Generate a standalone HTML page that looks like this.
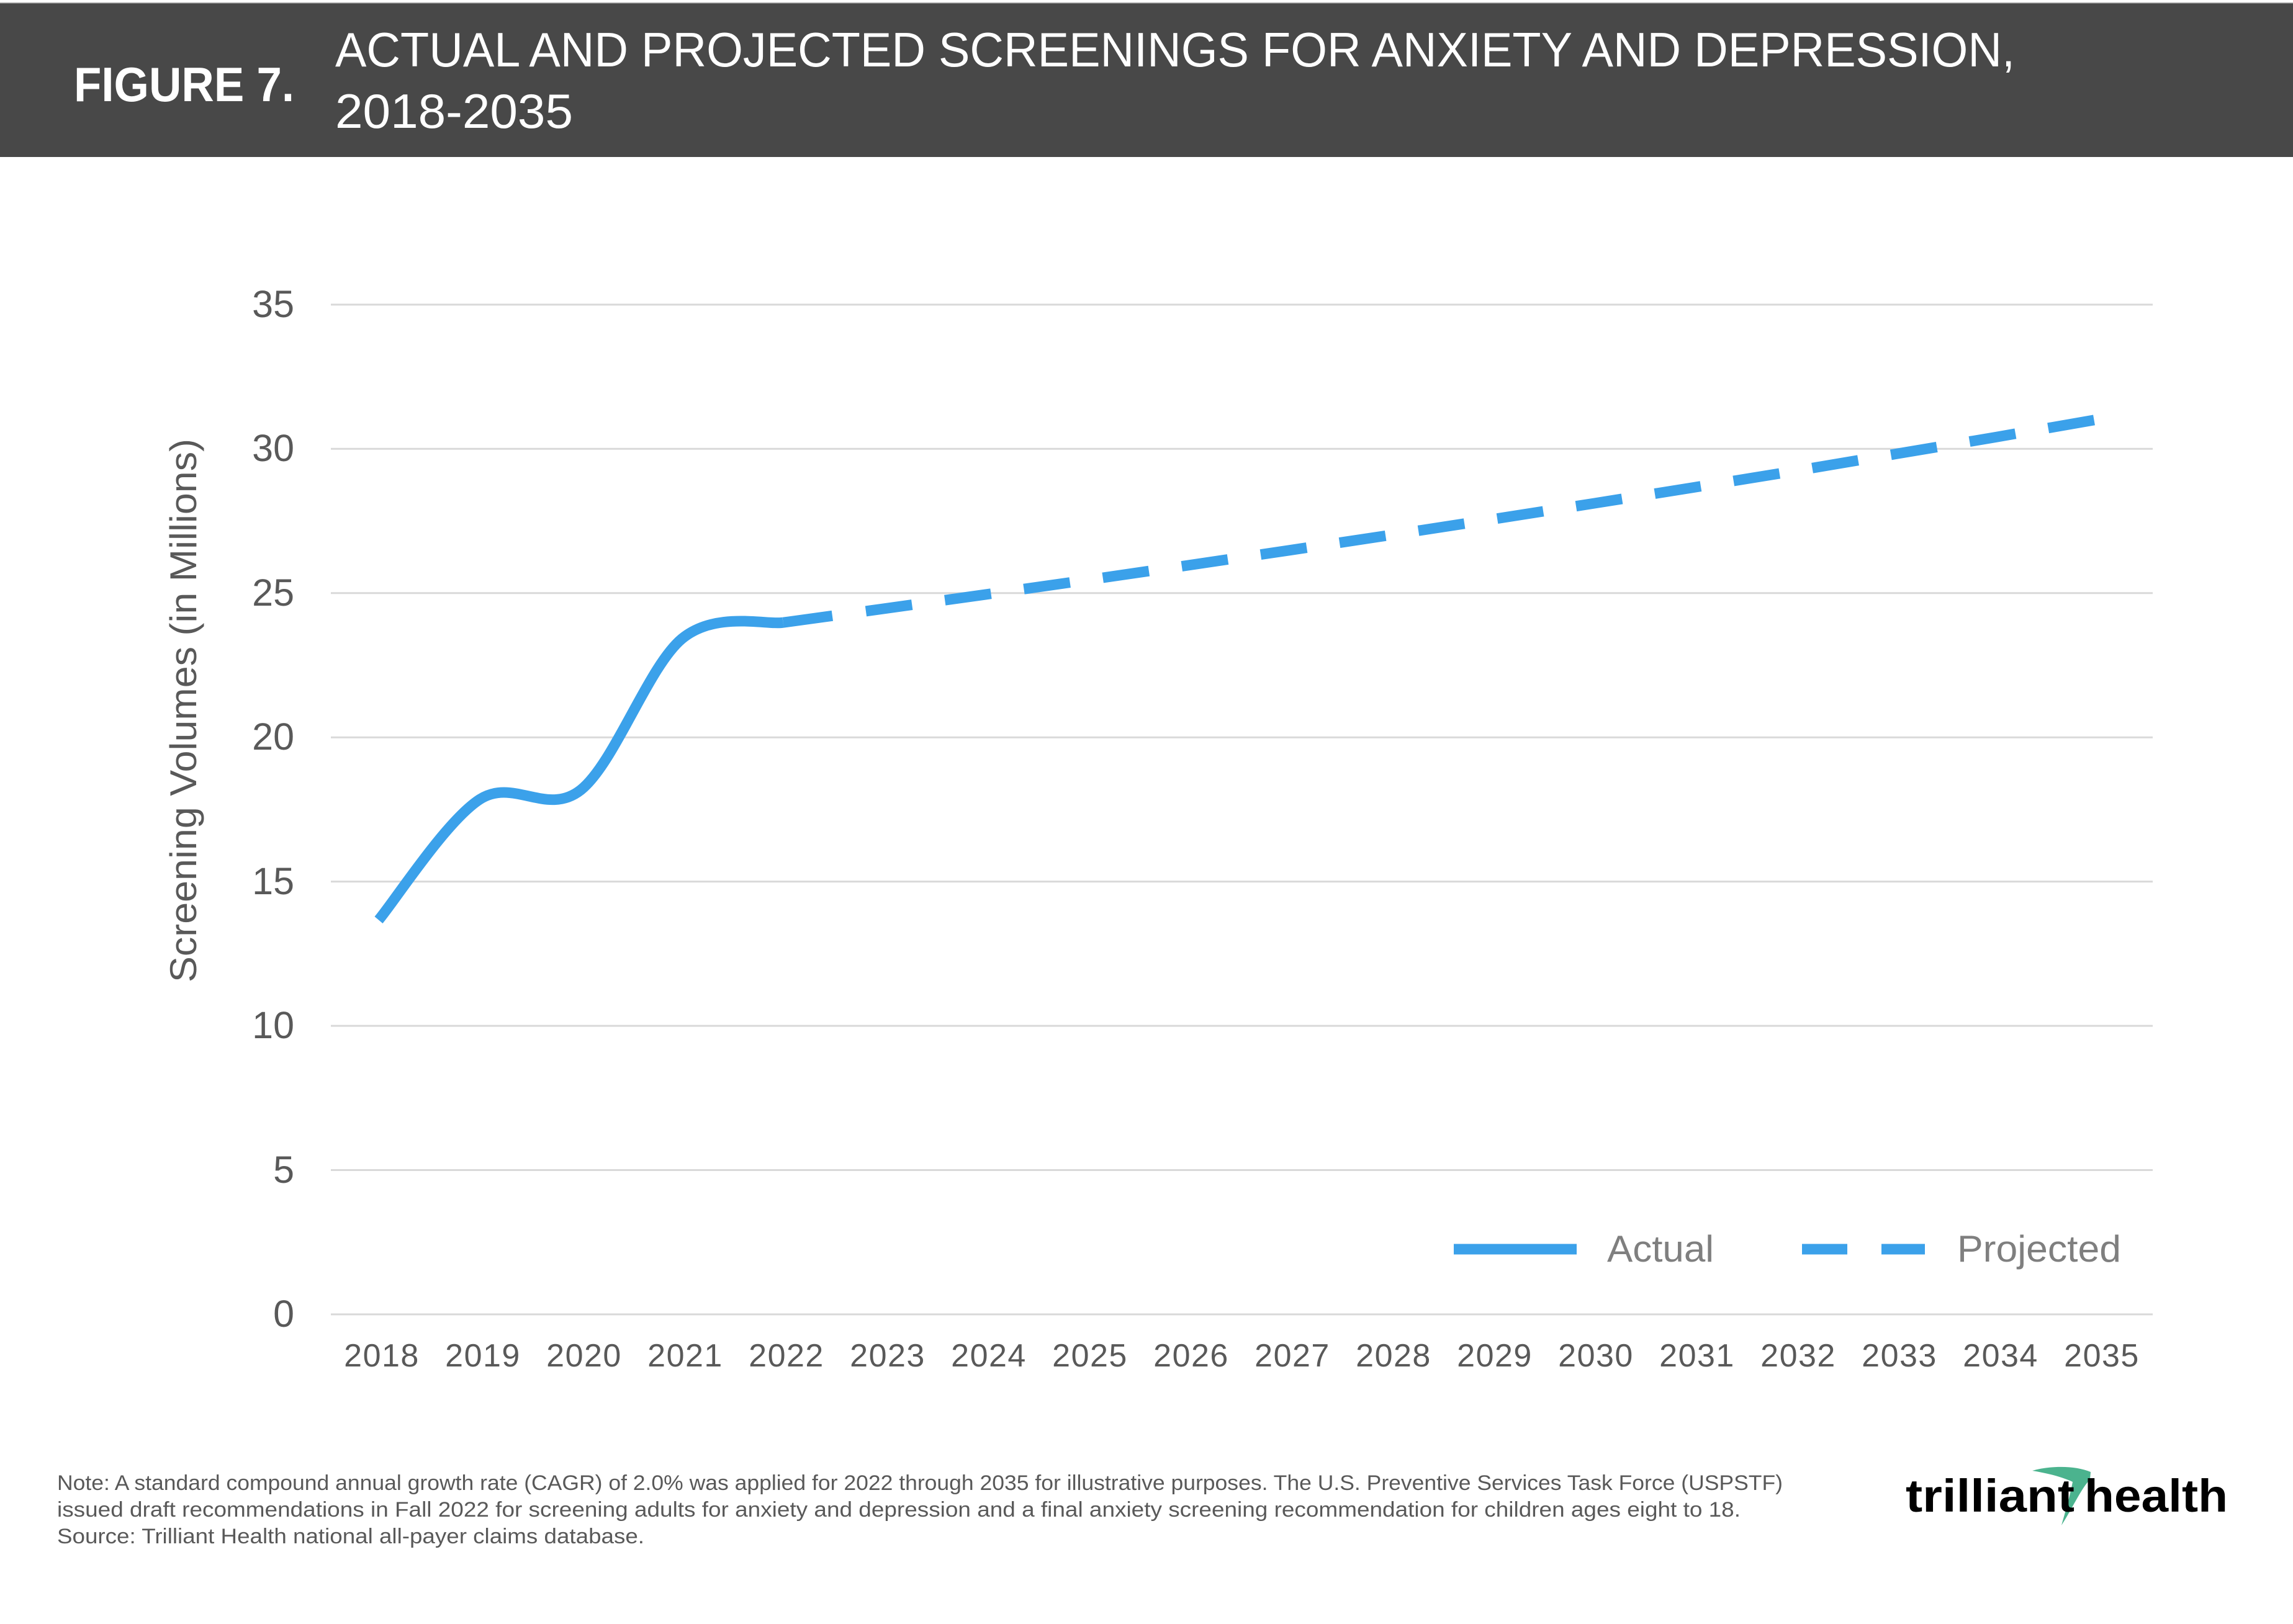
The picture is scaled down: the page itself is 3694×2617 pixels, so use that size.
<!DOCTYPE html>
<html>
<head>
<meta charset="utf-8">
<style>
  html, body { margin:0; padding:0; background:#ffffff; }
  body { width:3694px; height:2617px; overflow:hidden; }
  svg { display:block; }
  text { font-family: "Liberation Sans", Arial, sans-serif; }
</style>
</head>
<body>
<svg width="3694" height="2617" viewBox="0 0 3694 2617" xmlns="http://www.w3.org/2000/svg">
  <rect x="0" y="0" width="3694" height="2617" fill="#ffffff"/>

  <!-- Header band -->
  <rect x="0" y="5" width="3694" height="248" fill="#484848"/>
  <line x1="0" y1="5" x2="3694" y2="5" stroke="#8a8a8a" stroke-width="1.5"/>
  <text x="119" y="163" font-size="78" font-weight="bold" fill="#ffffff" textLength="355" lengthAdjust="spacingAndGlyphs">FIGURE 7.</text>
  <text x="540" y="107" font-size="78" fill="#ffffff" textLength="2706" lengthAdjust="spacingAndGlyphs">ACTUAL AND PROJECTED SCREENINGS FOR ANXIETY AND DEPRESSION,</text>
  <text x="540" y="206" font-size="78" fill="#ffffff" textLength="383" lengthAdjust="spacingAndGlyphs">2018-2035</text>

  <!-- Gridlines -->
  <g stroke="#d9d9d9" stroke-width="3">
    <line x1="533" y1="2118" x2="3468" y2="2118"/>
    <line x1="533" y1="1885.55" x2="3468" y2="1885.55"/>
    <line x1="533" y1="1653.1" x2="3468" y2="1653.1"/>
    <line x1="533" y1="1420.65" x2="3468" y2="1420.65"/>
    <line x1="533" y1="1188.2" x2="3468" y2="1188.2"/>
    <line x1="533" y1="955.75" x2="3468" y2="955.75"/>
    <line x1="533" y1="723.3" x2="3468" y2="723.3"/>
    <line x1="533" y1="490.85" x2="3468" y2="490.85"/>
  </g>

  <!-- Y tick labels -->
  <g font-size="61" fill="#595959" text-anchor="end">
    <text x="474" y="2138">0</text>
    <text x="474" y="1906">5</text>
    <text x="474" y="1673">10</text>
    <text x="474" y="1441">15</text>
    <text x="474" y="1208">20</text>
    <text x="474" y="976">25</text>
    <text x="474" y="743">30</text>
    <text x="474" y="511">35</text>
  </g>

  <!-- Y axis title -->
  <text transform="translate(316,1145) rotate(-90)" x="0" y="0" font-size="60" fill="#595959" text-anchor="middle" textLength="876" lengthAdjust="spacingAndGlyphs">Screening Volumes (in Millions)</text>

  <!-- X tick labels -->
  <g font-size="52" fill="#595959" text-anchor="middle" letter-spacing="1.5">
    <text x="615" y="2202">2018</text>
    <text x="778" y="2202">2019</text>
    <text x="941" y="2202">2020</text>
    <text x="1104" y="2202">2021</text>
    <text x="1267" y="2202">2022</text>
    <text x="1430" y="2202">2023</text>
    <text x="1593" y="2202">2024</text>
    <text x="1756" y="2202">2025</text>
    <text x="1919" y="2202">2026</text>
    <text x="2082" y="2202">2027</text>
    <text x="2245" y="2202">2028</text>
    <text x="2408" y="2202">2029</text>
    <text x="2571" y="2202">2030</text>
    <text x="2734" y="2202">2031</text>
    <text x="2897" y="2202">2032</text>
    <text x="3060" y="2202">2033</text>
    <text x="3223" y="2202">2034</text>
    <text x="3386" y="2202">2035</text>
  </g>

  <!-- Actual series (smoothed) -->
  <path d="M610,1482.5 C637.15,1450.11 718.6,1323.1 772.9,1288.15 C827.2,1253.2 881.5,1315.97 935.8,1272.81 C990.1,1229.65 1044.4,1074.14 1098.7,1029.2 C1153.0,984.26 1234.45,1007.51 1261.6,1003.17"
        fill="none" stroke="#3ba1ea" stroke-width="17" stroke-linecap="butt" stroke-linejoin="round"/>

  <!-- Projected series (dashed) -->
  <polyline points="1261.6,1003.2 1424.5,980.85 1587.4,958.07 1750.3,934.83 1913.2,911.12 2076.1,886.94 2239.0,862.31 2401.9,837.2 2564.8,811.63 2727.7,785.6 2890.6,759.1 3053.5,731.67 3216.4,704.24 3379.3,675.88"
        fill="none" stroke="#3ba1ea" stroke-width="17" stroke-linecap="butt" stroke-linejoin="round" stroke-dasharray="80 54.6 75 53.5 75 53.5 75 53.5 75 53.5 75 53.5 75 53.5 75 53.5 75 53.5 75 53.5 75 53.5 75 53.5 75 53.5 75 53.5 75 53.5 75 53.5 75 53.5 75 53.5 75 53.5"/>

  <!-- Legend -->
  <line x1="2342" y1="2013" x2="2540" y2="2013" stroke="#3ba1ea" stroke-width="17"/>
  <text x="2589" y="2033" font-size="60" fill="#7f7f7f" textLength="172" lengthAdjust="spacingAndGlyphs">Actual</text>
  <line x1="2903" y1="2013" x2="2976" y2="2013" stroke="#3ba1ea" stroke-width="17"/>
  <line x1="3031" y1="2013" x2="3101" y2="2013" stroke="#3ba1ea" stroke-width="17"/>
  <text x="3153" y="2033" font-size="60" fill="#7f7f7f" textLength="264" lengthAdjust="spacingAndGlyphs">Projected</text>

  <!-- Footnote -->
  <g font-size="34" fill="#595959">
    <text x="92" y="2401" textLength="2780" lengthAdjust="spacingAndGlyphs">Note: A standard compound annual growth rate (CAGR) of 2.0% was applied for 2022 through 2035 for illustrative purposes. The U.S. Preventive Services Task Force (USPSTF)</text>
    <text x="92" y="2444" textLength="2712" lengthAdjust="spacingAndGlyphs">issued draft recommendations in Fall 2022 for screening adults for anxiety and depression and a final anxiety screening recommendation for children ages eight to 18.</text>
    <text x="92" y="2487" textLength="946" lengthAdjust="spacingAndGlyphs">Source: Trilliant Health national all-payer claims database.</text>
  </g>

  <!-- Logo -->
  <path d="M3274,2370 C3305,2361 3345,2362 3368,2372 L3367,2384 C3352,2400 3340,2428 3321,2458 C3329,2430 3336,2405 3339,2388 C3322,2380 3298,2374 3274,2370 Z" fill="#4bb38e"/>
  <text x="3070" y="2436" font-size="74" font-weight="bold" fill="#000000" textLength="272" lengthAdjust="spacingAndGlyphs">trilliant</text>
  <text x="3358" y="2436" font-size="74" font-weight="bold" fill="#000000" textLength="231" lengthAdjust="spacingAndGlyphs">health</text>
</svg>
</body>
</html>
